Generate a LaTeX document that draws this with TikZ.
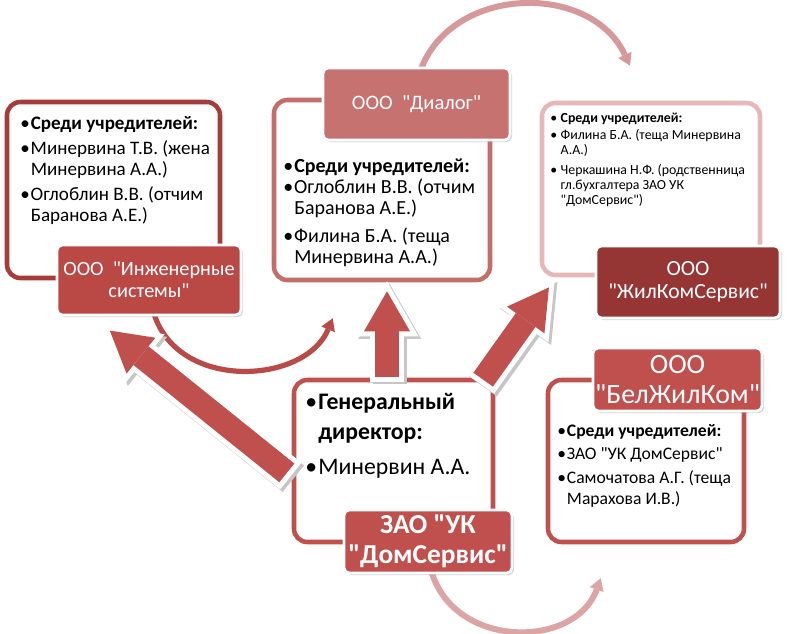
\documentclass[tikz,border=0pt]{standalone}
\usepackage{fontspec}
\setmainfont{Carlito}[Ligatures=TeXOff]
\usepackage{tikz}
\usetikzlibrary{arrows.meta,shadows,backgrounds}
\definecolor{zaored}{RGB}{192,80,77}
\definecolor{ingred}{RGB}{186,72,69}
\definecolor{ingline}{RGB}{166,60,58}
\definecolor{dlgred}{RGB}{198,114,112}
\definecolor{dlgline}{RGB}{196,110,108}
\definecolor{zhkred}{RGB}{150,54,52}
\definecolor{zhkline}{RGB}{229,184,183}
\definecolor{arcred}{RGB}{184,74,72}
\definecolor{arcpink}{RGB}{214,152,152}
\definecolor{arcpale}{RGB}{220,164,164}
\tikzstyle{infobox} = [rectangle, rounded corners=10pt, line width=3.4pt, fill=white, drop shadow={opacity=0.2,shadow xshift=1pt,shadow yshift=-1pt}]
\tikzstyle{infotext} = [anchor=base west, align=left, inner sep=0pt]
\tikzstyle{orglabel} = [rectangle, rounded corners=4pt, draw=white, line width=2pt, text=white, align=center, inner sep=0pt, drop shadow={opacity=0.35,shadow xshift=1.5pt,shadow yshift=-1.5pt}]
\tikzstyle{bigshade} = [line width=25.5pt, gray!45, -{Triangle[width=47.25pt,length=41.25pt,line width'=0pt]}, transform canvas={xshift=2pt,yshift=-2pt}]
\tikzstyle{bigrim} = [line width=25.5pt, white, -{Triangle[width=47.25pt,length=41.25pt,line width'=0pt]}]
\tikzstyle{bigcore} = [line width=18pt, zaored, -{Triangle[width=34.5pt,length=30pt,line width'=0pt]}, shorten >=7.5pt, shorten <=3.75pt]
\tikzstyle{arcarrow} = [line width=3.9pt, -{Triangle[width=11pt,length=9pt,line width'=0pt]}]
\newcommand{\itm}{\makebox[0.55em][l]{\textbullet}}
\newcommand{\cnt}{\hspace*{0.55em}}
\newcommand{\itms}{\makebox[0.75em][l]{\textbullet}}
\newcommand{\cnts}{\hspace*{0.75em}}

\begin{document}
\begin{tikzpicture}[x=0.75pt, y=-0.75pt]
\useasboundingbox (0,0) rectangle (800,633);

\node[infobox, draw=ingline, minimum width=159.75pt, minimum height=132pt] (boxA) at (113.5,190) {};
\node[infobox, draw=dlgline, minimum width=162pt, minimum height=135pt] (boxB) at (382,190) {};
\node[infobox, draw=zhkline, minimum width=163.5pt, minimum height=129pt] (boxC) at (651,189) {};
\node[infobox, draw=zaored, minimum width=149.25pt, minimum height=121.5pt] (boxD) at (393.5,461) {};
\node[infobox, draw=zaored, minimum width=147pt, minimum height=121.5pt] (boxE) at (646,461) {};

\node[infotext, font=\fontsize{14.3}{15.5}\selectfont] (txtA) at (20,221) {\itm\textbf{Среди учредителей:}\\[3.5pt] \itm Минервина Т.В. (жена\\ \cnt Минервина А.А.)\\[3.5pt] \itm Оглоблин В.В. (отчим\\ \cnt Баранова А.Е.)};
\node[infotext, font=\fontsize{15}{15.6}\selectfont] (txtB) at (283,263) {\itm\textbf{Среди учредителей:}\\[0.5pt] \itm Оглоблин В.В. (отчим\\ \cnt Баранова А.Е.)\\[5pt] \itm Филина Б.А. (теща\\ \cnt Минервина А.А.)};
\node[infotext, font=\fontsize{10.4}{11.25}\selectfont] (txtC) at (550,204) {\itms\textbf{Среди учредителей:}\\[1.5pt] \itms Филина Б.А. (теща Минервина\\ \cnts А.А.)\\[3.75pt] \itms Черкашина Н.Ф. (родственница\\ \cnts гл.бухгалтера ЗАО УК\\ \cnts "ДомСервис")};
\node[infotext, font=\fontsize{17.8}{22.5}\selectfont] (txtD) at (305,474) {\itm\textbf{Генеральный}\\ \cnt\textbf{директор:}\\[3.75pt] \itm Минервин А.А.};
\node[infotext, font=\fontsize{13.2}{15.5}\selectfont] (txtE) at (557,504) {\itm\textbf{Среди учредителей:}\\[1.75pt] \itm ЗАО "УК ДомСервис"\\[2.5pt] \itm Самочатова А.Г. (теща\\ \cnt Марахова И.В.)};

\node[orglabel, fill=ingred, minimum width=138pt, minimum height=52.5pt, font=\fontsize{15.2}{16.5}\selectfont] (labA) at (149,280) {ООО\ \ "Инженерные\\системы"};
\node[orglabel, fill=dlgred, minimum width=140.25pt, minimum height=54pt, font=\fontsize{15.4}{16.5}\selectfont] (labB) at (416.5,104) {ООО\ \ "Диалог"};
\node[orglabel, fill=zhkred, minimum width=138pt, minimum height=54pt, font=\fontsize{16.2}{17}\selectfont] (labC) at (688,282) {ООО\\"ЖилКомСервис"};
\node[orglabel, fill=zaored, minimum width=126pt, minimum height=47.25pt, font=\bfseries\fontsize{20.5}{22.5}\selectfont] (labD) at (428,541.5) {ЗАО "УК\\"ДомСервис"};
\node[orglabel, fill=zaored, minimum width=126.75pt, minimum height=47.25pt, font=\fontsize{20.9}{22.5}\selectfont] (labE) at (677.5,379.5) {ООО\\"БелЖилКом"};

\begin{scope}[on background layer]
\draw[arcarrow, arcred] ([shift={(4,-6)}]labA.south) .. controls (175,392) and (305,385) .. ([shift={(61,36)}]boxB.south west);
\draw[arcarrow, arcpink, line width=4.5pt] ([shift={(2,10)}]labB.north) .. controls (445,-15) and (590,-20) .. ([shift={(-21,-35)}]boxC.north);
\draw[arcarrow, arcpale, line width=4.5pt] ([shift={(2,-8)}]labD.south) .. controls (450,650) and (575,650) .. ([shift={(55,34)}]boxE.south west);
\end{scope}

\draw[bigshade] ([shift={(-1,15)}]boxD.west) -- ([shift={(-47,8)}]labA.south);
\draw[bigrim] ([shift={(-1,15)}]boxD.west) -- ([shift={(-47,8)}]labA.south);
\draw[bigcore] ([shift={(-1,15)}]boxD.west) -- ([shift={(-47,8)}]labA.south);

\draw[bigshade] ([shift={(-6.5,4)}]boxD.north) -- ([shift={(5,-1)}]boxB.south);
\draw[bigrim] ([shift={(-6.5,4)}]boxD.north) -- ([shift={(5,-1)}]boxB.south);
\draw[bigcore] ([shift={(-6.5,4)}]boxD.north) -- ([shift={(5,-1)}]boxB.south);

\draw[bigshade] ([shift={(-15,6)}]boxD.north east) -- ([shift={(15,2)}]boxC.south west);
\draw[bigrim] ([shift={(-15,6)}]boxD.north east) -- ([shift={(15,2)}]boxC.south west);
\draw[bigcore] ([shift={(-15,6)}]boxD.north east) -- ([shift={(15,2)}]boxC.south west);
\end{tikzpicture}
\end{document}
